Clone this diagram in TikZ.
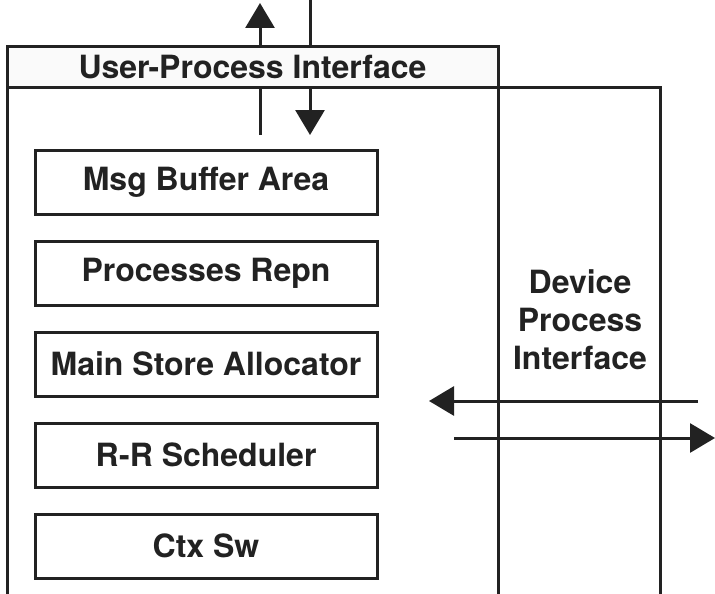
\documentclass[tikz,border=0pt]{standalone}
\usepackage{fontspec}
\setmainfont{TeX Gyre Heros}
\usetikzlibrary{arrows.meta}
\definecolor{ink}{HTML}{222222}
\tikzset{
  txt/.style={font=\bfseries\fontsize{32}{38}\selectfont, text=ink},
  box/.style={txt, draw=ink, line width=3pt, minimum width=342pt, minimum height=64pt, inner sep=0pt},
  hdr/.style={txt, draw=ink, fill=black!2, line width=3pt, minimum width=491pt, minimum height=41pt, inner sep=0pt},
  lbl/.style={txt, align=center, inner sep=0pt},
  wall/.style={draw=ink, line width=3pt},
  arr/.style={draw=ink, line width=3pt, -{Triangle[length=25pt,width=29pt]}},
}
\begin{document}
\begin{tikzpicture}[x=1pt,y=-1pt]
\useasboundingbox (0,0) rectangle (715,594);
% walls
\draw[wall] (7,594) -- (7,88);
\draw[wall] (498,594) -- (498,88) -- (660,88) -- (660,594);
% header
\node[hdr] (hdr) at (252.5,67.5) {User-Process Interface};
% inner boxes
\node[box] (msg) at (206,182) {Msg Buffer Area};
\node[box] (proc) at (206,273) {Processes Repn};
\node[box] (mem) at (206,364) {Main Store Allocator};
\node[box] (sched) at (206,455) {R-R Scheduler};
\node[box] (ctx) at (206,546) {Ctx Sw};
% device label
\node[lbl] (dev) at (580,320) {Device\\Process\\Interface};
% top arrows
\coordinate (upout) at (260,3);
\coordinate (upin) at (260,135);
\coordinate (dnout) at (310,0);
\coordinate (dnin) at (310,135);
\draw[wall] (upin) -- (hdr.south -| upin);
\draw[arr] (hdr.north -| upin) -- (upout);
\draw[wall] (dnout) -- (hdr.north -| dnout);
\draw[arr] (hdr.south -| dnout) -- (dnin);
% right arrows
\coordinate (lin) at (698,401);
\coordinate (lout) at (429,401);
\coordinate (rin) at (454,438);
\coordinate (rout) at (715,438);
\draw[arr] (lin) -- (lout);
\draw[arr] (rin) -- (rout);
\end{tikzpicture}
\end{document}
